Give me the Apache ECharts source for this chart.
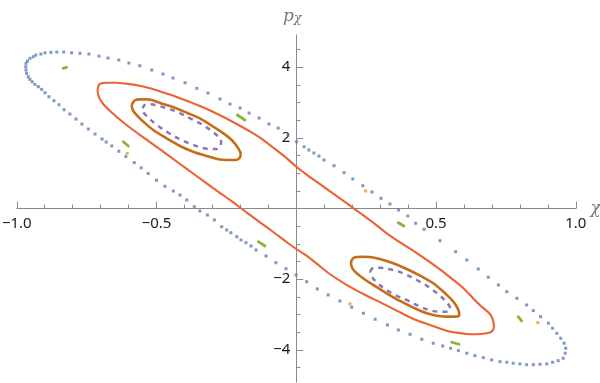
<!DOCTYPE html>
<html>
<head>
<meta charset="utf-8">
<script src="https://cdn.jsdelivr.net/npm/echarts@6/dist/echarts.min.js"></script>
<style>
  html, body { margin: 0; padding: 0; background: #fff; }
  #chart { width: 600px; height: 383px; }
</style>
</head>
<body>
<div id="chart"></div>
<script>
// ranges and tick positions
var xRange = [-1, 1];
var yRange = [-4.91, 4.91];
var xLabelValues = [-1, -0.5, 0.5, 1];
var yMajorValues = [-4, -2, 2, 4];
var yMinorValues = [-4.5, -3.5, -3, -2.5, -1.5, -1, -0.5, 0.5, 1, 1.5, 2.5, 3, 3.5, 4.5];

// outer orbit (blue dots)
var outerOrbit = [
  [-0.968,4.011],[-0.967,4.108],[-0.962,4.173],[-0.953,4.249],[-0.941,4.294],[-0.932,4.342],[-0.914,4.371],
  [-0.899,4.407],[-0.878,4.419],[-0.857,4.427],[-0.832,4.427],[-0.804,4.407],[-0.774,4.390],[-0.742,4.371],
  [-0.706,4.314],[-0.674,4.257],[-0.635,4.201],[-0.599,4.116],[-0.560,4.040],[-0.517,3.918],[-0.477,3.805],
  [-0.441,3.692],[-0.398,3.559],[-0.356,3.400],[-0.316,3.267],[-0.273,3.098],[-0.237,2.956],[-0.201,2.843],
  [-0.169,2.701],[-0.133,2.560],[-0.098,2.390],[-0.065,2.277],[-0.030,2.079],[0.001,1.890],[0.028,1.748],
  [0.045,1.655],[0.063,1.570],[0.081,1.485],[0.099,1.372],[0.135,1.211],[0.171,1.013],[0.202,0.835],
  [0.238,0.645],[0.271,0.467],[0.303,0.289],[0.335,0.127],[0.366,-0.042],[0.399,-0.212],[0.427,-0.419],
  [0.457,-0.588],[0.514,-0.911],[0.570,-1.222],[0.610,-1.457],[0.651,-1.711],[0.687,-1.946],[0.723,-2.164],
  [0.753,-2.354],[0.789,-2.540],[0.824,-2.730],[0.848,-2.891],[0.874,-3.061],[0.902,-3.247],[0.917,-3.389],
  [0.932,-3.530],[0.946,-3.672],[0.958,-3.813],[0.964,-3.955],[0.962,-4.096],[0.955,-4.238],[0.937,-4.306],
  [0.917,-4.351],[0.896,-4.399],[0.872,-4.407],[0.848,-4.419],[0.824,-4.419],[0.800,-4.399],[0.776,-4.379],
  [0.753,-4.351],[0.729,-4.334],[0.699,-4.286],[0.669,-4.221],[0.639,-4.164],[0.610,-4.096],[0.580,-4.023],
  [0.552,-3.955],[0.524,-3.890],[0.490,-3.813],[0.449,-3.700],[0.407,-3.559],[0.365,-3.437],[0.326,-3.296],
  [0.282,-3.134],[0.240,-2.965],[0.198,-2.795],[0.156,-2.617],[0.114,-2.447],[0.075,-2.277],[0.037,-2.071],
  [-0.001,-1.881],[-0.037,-1.703],[-0.073,-1.533],[-0.108,-1.344],[-0.144,-1.174],[-0.162,-1.061],[-0.180,-0.967],
  [-0.198,-0.891],[-0.213,-0.798],[-0.234,-0.685],[-0.249,-0.608],[-0.267,-0.515],[-0.293,-0.325],[-0.318,-0.184],
  [-0.345,-0.071],[-0.365,0.051],[-0.392,0.240],[-0.416,0.382],[-0.440,0.495],[-0.470,0.630],[-0.500,0.800],
  [-0.530,0.990],[-0.555,1.150],[-0.580,1.300],[-0.610,1.470],[-0.635,1.620],[-0.660,1.770],[-0.680,1.880],
  [-0.695,1.966],[-0.720,2.107],[-0.744,2.249],[-0.767,2.390],[-0.788,2.532],[-0.810,2.673],[-0.831,2.795],
  [-0.849,2.936],[-0.867,3.049],[-0.885,3.163],[-0.899,3.276],[-0.911,3.372],[-0.923,3.446],[-0.935,3.513],
  [-0.945,3.587],[-0.953,3.655],[-0.959,3.728],[-0.965,3.825],[-0.967,3.918]
];

// period-4 orbit (orange dots)
var periodFour = [[-0.605,1.562],[0.248,0.495],[0.192,-2.701],[0.864,-3.230]];

// island chain (green dashes)
var islandChain = [
  [[-0.834,3.966],[-0.822,3.994]],
  [[-0.211,2.645],[-0.184,2.504]],
  [[-0.619,1.890],[-0.601,1.768]],
  [[-0.136,-0.939],[-0.112,-1.061]],
  [[0.365,-0.402],[0.385,-0.495]],
  [[0.794,-3.061],[0.806,-3.183]],
  [[0.556,-3.785],[0.582,-3.842]]
];

// big loop around both islands (red)
var bigLoop = [
  [-0.711,3.352],[-0.708,3.465],[-0.700,3.535],[-0.678,3.559],[-0.643,3.560],[-0.607,3.530],[-0.570,3.490],
  [-0.523,3.400],[-0.476,3.285],[-0.430,3.165],[-0.380,3.010],[-0.330,2.850],
  [-0.273,2.640],[-0.220,2.420],[-0.166,2.180],[-0.120,1.950],[-0.082,1.720],
  [-0.034,1.420],[0.000,1.182],[0.037,0.960],[0.085,0.690],[0.132,0.420],[0.180,0.150],[0.228,-0.127],
  [0.275,-0.400],[0.320,-0.680],[0.377,-0.990],[0.419,-1.200],[0.478,-1.520],[0.538,-1.870],
  [0.598,-2.257],[0.630,-2.520],[0.660,-2.760],[0.687,-2.937],[0.699,-3.061],[0.705,-3.202],
  [0.707,-3.344],[0.699,-3.485],[0.681,-3.530],[0.645,-3.559],[0.610,-3.550],[0.574,-3.513],[0.538,-3.457],
  [0.478,-3.296],[0.419,-3.126],[0.359,-2.890],[0.299,-2.650],[0.240,-2.420],[0.180,-2.160],
  [0.121,-1.861],[0.073,-1.560],[0.034,-1.320],[0.000,-1.146],[-0.034,-0.955],[-0.080,-0.680],
  [-0.130,-0.390],[-0.180,-0.100],[-0.230,0.200],[-0.280,0.480],[-0.334,0.790],[-0.392,1.120],
  [-0.452,1.470],[-0.510,1.800],[-0.559,2.079],[-0.600,2.320],[-0.635,2.540],
  [-0.667,2.767],[-0.690,2.950],[-0.703,3.100],[-0.709,3.230],[-0.711,3.352]
];

// inner dashed orbits (purple)
var innerUpper = [
  [-0.550,2.835],[-0.541,2.936],[-0.523,2.948],[-0.494,2.908],[-0.464,2.835],[-0.428,2.738],[-0.380,2.552],
  [-0.338,2.382],[-0.303,2.192],[-0.279,2.031],[-0.269,1.890],[-0.273,1.748],[-0.285,1.683],[-0.309,1.683],
  [-0.338,1.720],[-0.374,1.816],[-0.416,1.958],[-0.458,2.144],[-0.494,2.334],[-0.523,2.523],[-0.541,2.665],
  [-0.551,2.767],[-0.550,2.835]
];
var innerLower = [
  [0.264,-1.788],[0.273,-1.692],[0.299,-1.675],[0.329,-1.711],[0.359,-1.768],[0.395,-1.881],[0.431,-2.023],
  [0.472,-2.212],[0.508,-2.427],[0.538,-2.653],[0.550,-2.823],[0.544,-2.919],[0.520,-2.919],[0.484,-2.891],
  [0.443,-2.778],[0.395,-2.588],[0.353,-2.447],[0.317,-2.277],[0.288,-2.088],[0.270,-1.929],[0.264,-1.788]
];

// island tori (brown)
var torusUpper = [
  [-0.589,2.928],[-0.577,3.069],[-0.559,3.089],[-0.535,3.089],[-0.517,3.069],[-0.476,2.956],[-0.440,2.863],
  [-0.392,2.710],[-0.345,2.552],[-0.297,2.314],[-0.261,2.127],[-0.231,1.938],[-0.208,1.703],[-0.199,1.542],
  [-0.204,1.420],[-0.219,1.372],[-0.249,1.372],[-0.279,1.392],[-0.321,1.485],[-0.369,1.607],[-0.416,1.768],
  [-0.464,1.986],[-0.512,2.221],[-0.547,2.455],[-0.571,2.645],[-0.585,2.786],[-0.589,2.928]
];
var torusLower = [
  [0.198,-1.457],[0.210,-1.380],[0.234,-1.364],[0.264,-1.372],[0.299,-1.429],[0.347,-1.550],[0.395,-1.711],
  [0.443,-1.901],[0.490,-2.116],[0.532,-2.399],[0.562,-2.637],[0.580,-2.871],[0.583,-3.013],[0.568,-3.061],
  [0.538,-3.061],[0.503,-3.033],[0.467,-2.965],[0.419,-2.806],[0.371,-2.617],[0.323,-2.399],[0.275,-2.164],
  [0.234,-1.946],[0.210,-1.788],[0.198,-1.646],[0.196,-1.522],[0.198,-1.457]
];

var axisGray = '#8a8a8a';
var labelColor = '#1a1a1a';
var labelFont = 'Noto Sans';
var nameStyle = { color: '#777', fontSize: 17, fontStyle: 'italic', fontFamily: 'DejaVu Serif' };
function minus(v) { return String(v).replace('-', '\u2212'); }

function loop(data, color, width, dash, smooth) {
  return {
    type: 'line', data: data, smooth: smooth, showSymbol: false, silent: true,
    lineStyle: { color: color, width: width, type: dash || 'solid' }
  };
}

var series = [
  { type: 'scatter', data: outerOrbit, symbol: 'rect', symbolSize: 3, silent: true,
    itemStyle: { color: '#5E81B5' } },
  { type: 'scatter', data: periodFour, symbol: 'rect', symbolSize: 3, silent: true,
    itemStyle: { color: '#E19C24' } }
];
islandChain.forEach(function (seg) {
  series.push({ type: 'line', data: seg, showSymbol: false, silent: true,
    lineStyle: { color: '#8FB032', width: 2.8, cap: 'round' } });
});
series.push(loop(bigLoop, '#EB6235', 2.1, 'solid', 0.25));
series.push(loop(innerUpper, '#8778B3', 2.5, [5, 5], 0.35));
series.push(loop(innerLower, '#8778B3', 2.5, [5, 5], 0.35));
series.push(loop(torusUpper, '#C56E1A', 2.6, 'solid', 0.35));
series.push(loop(torusLower, '#C56E1A', 2.6, 'solid', 0.35));

function hiddenAxis(type, grid, range) {
  return { type: type, gridIndex: grid, min: range[0], max: range[1], show: false };
}

var chart = echarts.init(document.getElementById('chart'), null, { renderer: 'canvas' });
chart.setOption({
  animation: false,
  backgroundColor: '#fff',
  grid: [
    // plot area
    { left: 16.8, right: 24.2, top: 35, bottom: 1, outerBoundsMode: 'none' },
    // upper half: its bottom edge carries the horizontal axis at p = 0
    { left: 16.8, right: 24.2, top: 35, height: 173.5, outerBoundsMode: 'none' },
    // right half: its left edge carries the vertical axis at chi = 0
    { left: 296.3, right: 24.2, top: 35, bottom: 1, outerBoundsMode: 'none' }
  ],
  xAxis: [
    hiddenAxis('value', 0, xRange),
    {
      type: 'value', gridIndex: 1, position: 'bottom', min: xRange[0], max: xRange[1], interval: 0.5,
      name: '\u03c7', nameLocation: 'end', nameGap: 11,
      nameTextStyle: Object.assign({ verticalAlign: 'middle' }, nameStyle),
      axisLine: { onZero: false, lineStyle: { color: axisGray, width: 1 } },
      axisTick: { show: true, inside: true, length: 7, lineStyle: { color: axisGray } },
      minorTick: { show: true, splitNumber: 5, length: 4, lineStyle: { color: axisGray } },
      splitLine: { show: false },
      axisLabel: {
        customValues: xLabelValues, margin: 8, color: labelColor, fontSize: 15, fontFamily: labelFont,
        formatter: function (v) { return minus(v.toFixed(1)); }
      }
    },
    hiddenAxis('value', 2, [0, 1])
  ],
  yAxis: [
    hiddenAxis('value', 0, yRange),
    hiddenAxis('value', 1, [0, yRange[1]]),
    {
      type: 'value', gridIndex: 2, position: 'left', min: yRange[0], max: yRange[1],
      name: '{p|p}{s|\u03c7}', nameLocation: 'end', nameGap: 10,
      nameTextStyle: {
        padding: [0, 8, 0, 0],
        rich: {
          p: Object.assign({ verticalAlign: 'bottom' }, nameStyle),
          s: Object.assign({}, nameStyle, { fontSize: 13, verticalAlign: 'bottom', padding: [6, 0, 0, 0] })
        }
      },
      axisLine: { onZero: false, lineStyle: { color: axisGray, width: 1 } },
      axisTick: { show: true, inside: true, length: 7, customValues: yMajorValues, lineStyle: { color: axisGray } },
      splitLine: { show: false },
      axisLabel: {
        customValues: yMajorValues, margin: 6, color: labelColor, fontSize: 15, fontFamily: labelFont,
        formatter: function (v) { return minus(v); }
      }
    },
    {
      type: 'value', gridIndex: 2, position: 'left', min: yRange[0], max: yRange[1],
      axisLine: { show: false, onZero: false },
      axisTick: { show: true, inside: true, length: 4, customValues: yMinorValues, lineStyle: { color: axisGray } },
      axisLabel: { show: false },
      splitLine: { show: false }
    }
  ],
  series: series
});
</script>
</body>
</html>
